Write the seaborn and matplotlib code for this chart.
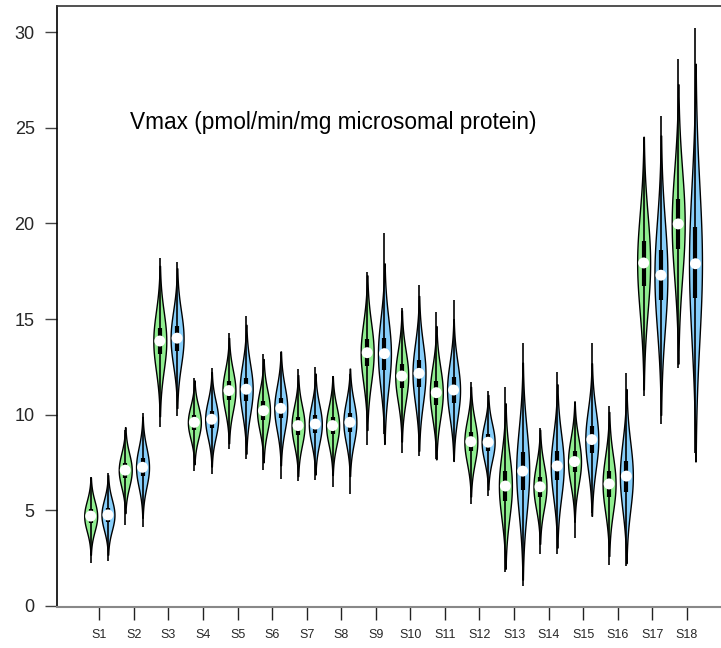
import numpy as np
import pandas as pd
import matplotlib
matplotlib.use("Agg")
import matplotlib.pyplot as plt
import seaborn as sns

sites = [f"S{i}" for i in range(1, 19)]
groups = ["A", "B"]

# per violin values: (green, blue) for each site
lows_a = [2.23, 4.23, 9.37, 7.06, 8.19, 7.11, 6.52, 6.24, 8.42, 7.98, 7.67, 5.32, 1.80, 2.70, 3.54, 2.13, 10.96, 12.45]
q1_a   = [4.34, 6.70, 13.15, 9.21, 10.77, 9.73, 8.96, 8.97, 12.52, 11.41, 10.53, 8.08, 5.50, 5.70, 6.99, 5.71, 16.75, 18.67]
med_a  = [4.70, 7.10, 13.85, 9.60, 11.26, 10.21, 9.43, 9.43, 13.24, 12.02, 11.15, 8.59, 6.27, 6.23, 7.55, 6.38, 17.93, 19.97]
q3_a   = [5.06, 7.50, 14.55, 9.99, 11.75, 10.69, 9.90, 9.89, 13.96, 12.63, 11.77, 9.10, 7.04, 6.76, 8.11, 7.05, 19.10, 21.27]
highs_a = [6.76, 9.20, 18.20, 11.90, 14.29, 13.16, 12.38, 12.02, 17.44, 15.60, 15.38, 11.69, 11.47, 9.30, 10.56, 10.47, 24.10, 28.60]

lows_b = [2.37, 4.15, 9.93, 6.88, 7.67, 6.64, 6.59, 5.85, 8.97, 7.84, 7.77, 5.75, 1.05, 2.70, 4.87, 2.08, 9.53, 7.98]
q1_b   = [4.39, 6.78, 13.35, 9.32, 10.73, 9.80, 9.04, 9.10, 12.35, 11.44, 10.63, 8.12, 6.04, 6.56, 7.99, 5.98, 15.99, 16.10]
med_b  = [4.76, 7.25, 14.00, 9.76, 11.33, 10.33, 9.51, 9.60, 13.19, 12.16, 11.29, 8.56, 7.05, 7.32, 8.70, 6.79, 17.29, 17.89]
q3_b   = [5.13, 7.72, 14.65, 10.20, 11.93, 10.86, 9.98, 10.10, 14.03, 12.88, 11.95, 9.00, 8.06, 8.08, 9.41, 7.60, 18.59, 19.80]
highs_b = [6.95, 10.07, 18.00, 12.43, 15.16, 13.30, 12.47, 12.13, 19.48, 16.78, 16.00, 11.25, 13.73, 12.23, 13.73, 12.17, 25.60, 30.20]

title_text = "Vmax (pmol/min/mg microsomal protein)"
y_ticks = [0, 5, 10, 15, 20, 25, 30]

green = "#90EE90"
blue = "#87CEFA"

rows = []
for g, (q1s, meds, q3s) in zip(groups, [(q1_a, med_a, q3_a), (q1_b, med_b, q3_b)]):
    for s, a, m, b in zip(sites, q1s, meds, q3s):
        for v in (a, m, b):
            rows.append({"site": s, "group": g, "value": v})
df = pd.DataFrame(rows)

sns.set_style("white")
plt.rcParams["font.family"] = ["Liberation Sans", "DejaVu Sans"]

fig = plt.figure(figsize=(7.21, 6.48), dpi=100)
ax = fig.add_axes([57.3 / 721, 40.7 / 648, (729 - 57.3) / 721, (642 - 40.7) / 648])

sns.violinplot(data=df, x="site", y="value", hue="group", order=sites, hue_order=groups,
               palette=[green, blue], saturation=1, density_norm="width", cut=2.3,
               bw_adjust=2.5, inner=None, width=1.0, gap=0.25, linewidth=1.0,
               linecolor="black", legend=False, ax=ax)

summary = {"A": (lows_a, q1_a, med_a, q3_a, highs_a, -0.25),
           "B": (lows_b, q1_b, med_b, q3_b, highs_b, 0.25)}
for g in groups:
    lo, q1, md, q3, hi, off = summary[g]
    xs = np.arange(len(sites)) + off
    ax.vlines(xs, lo, hi, color="black", lw=1.2, zorder=3)
    ax.vlines(xs, q1, q3, color="black", lw=3.0, zorder=4)
    ax.scatter(xs, md, s=62, color="white", edgecolor="none", zorder=5)

ax.set_xlim(-1.216, 18.22)
ax.set_ylim(-0.068, 31.36)
ax.set_yticks(y_ticks)
ax.set_yticklabels([str(t) for t in y_ticks], fontsize=13)
ax.set_xlabel("")
ax.set_ylabel("")
ax.tick_params(axis="y", direction="out", length=8.3, width=1.0, color="#444444", pad=8, left=True)
ax.tick_params(axis="x", direction="out", length=9.5, width=1.0, color="#222222", pad=6, labelsize=9, bottom=True)

for side in ["left", "top", "bottom", "right"]:
    ax.spines[side].set_visible(True)
ax.spines["left"].set_color("black")
ax.spines["left"].set_linewidth(1.2)
ax.spines["top"].set_color("#333333")
ax.spines["top"].set_linewidth(1.2)
ax.spines["bottom"].set_color("#888888")
ax.spines["bottom"].set_linewidth(1.5)
ax.spines["right"].set_visible(False)

fig.text(130 / 721, 1 - 123 / 648, title_text, fontsize=16.3, ha="left", va="center", color="black")

fig.savefig("out.png", dpi=100)
